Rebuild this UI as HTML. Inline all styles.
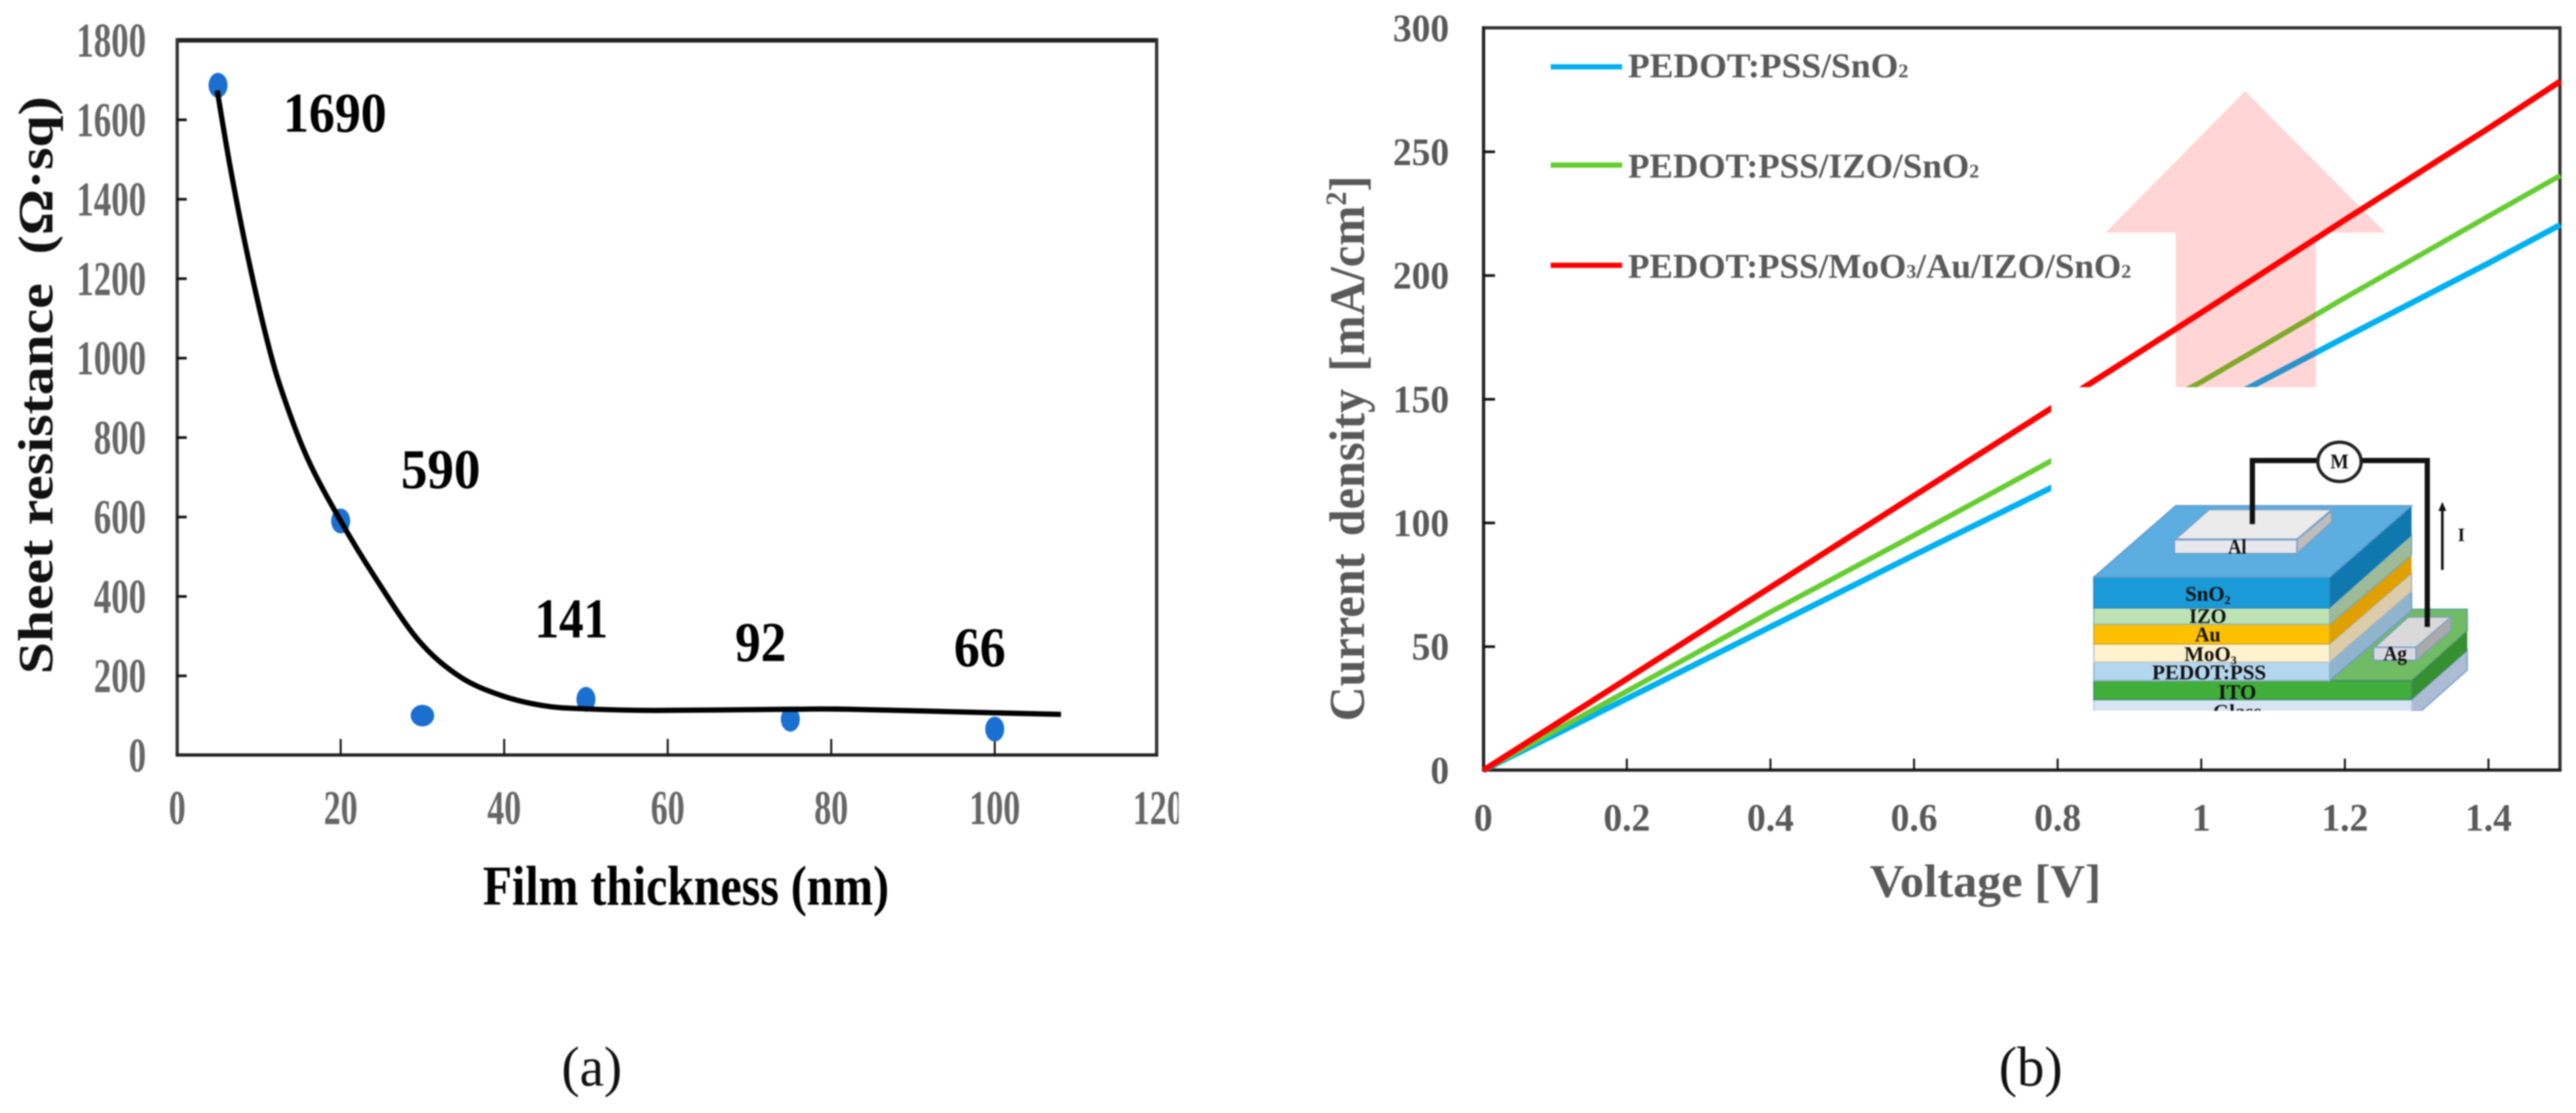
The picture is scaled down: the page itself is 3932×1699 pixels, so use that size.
<!DOCTYPE html>
<html lang="en">
<head>
<meta charset="utf-8">
<title>Sheet resistance and current density charts</title>
<style>
html,body{margin:0;padding:0;background:#fff;width:3932px;height:1699px;overflow:hidden}
svg{display:block;filter:blur(1px)}
text{font-family:"Liberation Serif",serif}
.bold{font-weight:bold}
.lab{font-weight:bold;fill:#111;text-anchor:middle;font-size:32px}
</style>
</head>
<body>
<svg id="figure" xmlns="http://www.w3.org/2000/svg" width="3932" height="1699" viewBox="0 0 3932 1699">
  <defs>
    <clipPath id="clip-a-labels"><rect x="0" y="0" width="1799" height="1699"/></clipPath>
    <clipPath id="clip-inset"><rect x="3150" y="640" width="640" height="445"/></clipPath>
  </defs>
  <rect width="3932" height="1699" fill="#fff"/>

  <g id="chart-a">
    <g>
      <rect x="268" y="58" width="1499" height="7" fill="#222"/>
      <rect x="268" y="58" width="5" height="1097" fill="#333"/>
      <rect x="1763" y="58" width="5" height="1097" fill="#333"/>
      <rect x="268" y="1150" width="1499" height="5" fill="#222"/>
    </g>
    <g id="a-ticks"></g>
    <g id="a-points"></g>
    <g id="a-curve"></g>
    <g class="bold" fill="#000" font-size="86">
      <text transform="translate(432,201) scale(.92,1)">1690</text>
      <text transform="translate(612,745) scale(.94,1)">590</text>
      <text transform="translate(816,973) scale(.87,1)">141</text>
      <text transform="translate(1122,1009) scale(.91,1)">92</text>
      <text transform="translate(1456,1017) scale(.92,1)">66</text>
    </g>
    <text class="bold" fill="#111" font-size="75" transform="translate(80,1029) rotate(-90)" textLength="882" lengthAdjust="spacingAndGlyphs" xml:space="preserve">Sheet resistance  (Ω·sq)</text>
    <text class="bold" fill="#000" font-size="86" x="737" y="1381" textLength="620" lengthAdjust="spacingAndGlyphs">Film thickness (nm)</text>
    <text fill="#111" font-size="86" transform="translate(857,1657) scale(.97,1)">(a)</text>
  </g>

  <g id="chart-b">
    <g>
      <rect x="2262" y="40" width="1648" height="5" fill="#333"/>
      <rect x="2262" y="40" width="5" height="1138" fill="#222"/>
      <rect x="3905" y="40" width="5" height="1138" fill="#333"/>
      <rect x="2262" y="1173" width="1648" height="5" fill="#222"/>
    </g>
    <g id="b-ticks"></g>
    <g id="b-under"></g>
    <polygon points="3427,139 3641,355 3535,355 3535,591 3321,591 3321,355 3214,355" fill="#ff0000" fill-opacity=".165"/>
    <g id="b-over"></g>
    <rect x="3131" y="591" width="770" height="510" fill="#fff"/>

    <g>
      <line x1="2367" x2="2476" y1="102" y2="102" stroke="#00b0f0" stroke-width="8"/>
      <line x1="2367" x2="2476" y1="252" y2="252" stroke="#66cc33" stroke-width="8"/>
      <line x1="2367" x2="2476" y1="405" y2="405" stroke="#ff0000" stroke-width="8"/>
      <g class="bold" fill="#595959" font-size="53">
        <text x="2485" y="118" textLength="428" lengthAdjust="spacingAndGlyphs">PEDOT:PSS/SnO<tspan font-size="30">2</tspan></text>
        <text x="2485" y="271" textLength="536" lengthAdjust="spacingAndGlyphs">PEDOT:PSS/IZO/SnO<tspan font-size="30">2</tspan></text>
        <text x="2485" y="424" textLength="768" lengthAdjust="spacingAndGlyphs">PEDOT:PSS/MoO<tspan font-size="30">3</tspan>/Au/IZO/SnO<tspan font-size="30">2</tspan></text>
      </g>
    </g>

    <text class="bold" fill="#595959" font-size="76" word-spacing="8" transform="translate(2082,1101) rotate(-90)" textLength="833" lengthAdjust="spacingAndGlyphs">Current density [mA/cm<tspan font-size="44" dy="-28">2</tspan><tspan dy="28">]</tspan></text>
    <text class="bold" fill="#595959" font-size="71" x="2854" y="1369" textLength="353" lengthAdjust="spacingAndGlyphs">Voltage [V]</text>
    <text fill="#111" font-size="86" transform="translate(3051,1657) scale(.97,1)">(b)</text>

    <g>
      <g clip-path="url(#clip-inset)" stroke-width="2">
        <polygon points="3681,1068 3766,993 3766,1023 3696,1085 3681,1085" fill="#acbcd4" stroke="#7f9fd0"/>
        <rect x="3196" y="1068" width="485" height="20" fill="#d8e4f4" stroke="#b8c8e0"/>
        <text class="lab" x="3415" y="1097" fill="#222" textLength="74" lengthAdjust="spacingAndGlyphs">Glass</text>
      </g>
      <polygon points="3556,1039 3681,930 3766,930 3766,963 3681,1039" fill="#70bb63" stroke="#5a9fa0" stroke-width="2"/>
      <polygon points="3681,1039 3766,963 3766,993 3681,1068" fill="#369032"/>
      <rect x="3196" y="1039" width="485" height="29" fill="#41ad3a" stroke="#3f8f70" stroke-width="2"/>
      <polygon points="3556,1011 3681,903 3681,932 3556,1039" fill="#8fb4cc" stroke="#6f9cc8" stroke-width="2"/>
      <rect x="3196" y="1011" width="360" height="28" fill="#b4d7f0" stroke="#8fb0cc" stroke-width="2"/>
      <polygon points="3556,983 3681,875 3681,903 3556,1011" fill="#ddccaa" stroke="#9fb4c0" stroke-width="2"/>
      <rect x="3196" y="983" width="360" height="28" fill="#fff2cc" stroke="#b8c4c8" stroke-width="2"/>
      <polygon points="3556,953 3681,847 3681,875 3556,983" fill="#dfa000"/>
      <rect x="3196" y="953" width="360" height="30" fill="#ffc000" stroke="#c8a838" stroke-width="2"/>
      <polygon points="3556,928 3681,817 3681,847 3556,953" fill="#9dbb98" stroke="#7fa8b8" stroke-width="2"/>
      <rect x="3196" y="928" width="360" height="25" fill="#bde3b5" stroke="#8fb8a8" stroke-width="2"/>
      <polygon points="3556,881 3681,772 3681,817 3556,928" fill="#0f78ae"/>
      <rect x="3196" y="881" width="360" height="47" fill="#1b9ad8" stroke="#2a86c0" stroke-width="2"/>
      <polygon points="3321,772 3681,772 3556,881 3196,881" fill="#5baedf" stroke="#5f9ccc" stroke-width="2"/>
      <polygon points="3506,824 3559,780 3559,797 3506,845" fill="#bdbdbd" stroke="#7fa0c4" stroke-width="2"/>
      <polygon points="3372,778 3559,778 3506,823 3321,823" fill="#ebebeb" stroke="#7fa0c4" stroke-width="2"/>
      <rect x="3319" y="824" width="187" height="21" fill="#e8e8ee" stroke="#6f9cc8" stroke-width="2"/>
      <polygon points="3688,988 3741,942 3741,962 3688,1008" fill="#aaaaaa" stroke="#7fa0c4" stroke-width="2"/>
      <polygon points="3676,942 3741,942 3688,988 3625,988" fill="#d9d9d9" stroke="#7fa0c4" stroke-width="2"/>
      <rect x="3623" y="988" width="65" height="20" fill="#d8d8e0" stroke="#6f9cc8" stroke-width="2"/>
      <g class="lab">
        <text x="3415" y="845" textLength="28" lengthAdjust="spacingAndGlyphs">Al</text>
        <text x="3370" y="917" textLength="69" lengthAdjust="spacingAndGlyphs">SnO<tspan font-size="18" dy="5">2</tspan></text>
        <text x="3370" y="951" textLength="57" lengthAdjust="spacingAndGlyphs">IZO</text>
        <text x="3370" y="979" textLength="39" lengthAdjust="spacingAndGlyphs">Au</text>
        <text x="3374" y="1009" textLength="80" lengthAdjust="spacingAndGlyphs">MoO<tspan font-size="18" dy="5">3</tspan></text>
        <text x="3372" y="1037" textLength="174" lengthAdjust="spacingAndGlyphs">PEDOT:PSS</text>
        <text x="3415" y="1067" textLength="58" lengthAdjust="spacingAndGlyphs">ITO</text>
        <text x="3656" y="1008" textLength="36" lengthAdjust="spacingAndGlyphs">Ag</text>
      </g>
      <path d="M3438,800 V703 H3705 V957" fill="none" stroke="#111" stroke-width="8"/>
      <ellipse cx="3571" cy="705" rx="33" ry="30" fill="#fff" stroke="#222" stroke-width="5"/>
      <text class="lab" x="3571" y="715" textLength="28" lengthAdjust="spacingAndGlyphs">M</text>
      <line x1="3728" y1="870" x2="3728" y2="775" stroke="#111" stroke-width="4"/>
      <polygon points="3728,766 3722,780 3734,780" fill="#111"/>
      <text class="lab" x="3757" y="826" style="font-size:28px">I</text>
    </g>
  </g>

  <g id="a-labels" clip-path="url(#clip-a-labels)"></g>
  <g id="b-labels"></g>
</svg>

<script>
// Chart (a) data
const thicknessValues = [5, 20, 30, 50, 75, 100];
const resistanceValues = [1687, 590, 100, 141, 91, 66];
const fitThickness = [4.9, 6.5, 8.5, 11, 13, 16, 20, 24.3, 29.5, 34.5, 39.6, 44.8, 49.9, 58.5, 75, 82, 100, 108.1];
const fitResistance = [1674, 1480, 1270, 1045, 905, 745, 590, 445, 290, 199, 151, 125, 117, 113, 116, 116, 107, 103];
const thicknessTicks = [0, 20, 40, 60, 80, 100, 120];
const resistanceTicks = [0, 200, 400, 600, 800, 1000, 1200, 1400, 1600, 1800];

// Chart (b) data
const voltageValues = [0, 0.2, 0.4, 0.6, 0.8, 1.0, 1.2, 1.4, 1.5];
const sno2Current = [0, 29, 58, 87, 115.5, 144.5, 175, 205, 220.5];
const izoCurrent = [0, 32, 64, 95, 126.5, 157, 191, 224, 240.4];
const auCurrent = [0, 37, 74, 111, 148, 185, 222.5, 259.5, 278.5];
const voltageTicks = [0, 0.2, 0.4, 0.6, 0.8, 1, 1.2, 1.4];
const currentTicks = [0, 50, 100, 150, 200, 250, 300];

const NS = 'http://www.w3.org/2000/svg';
const xA = v => 270.4 + 12.48 * v;
const yA = v => 1153 - 0.6063 * v;
const xB = v => 2264 + 1096 * v;
const yB = v => 1176 - 3.777 * v;

function make(tag, attrs, parent) {
  const el = document.createElementNS(NS, tag);
  for (const k in attrs) el.setAttribute(k, attrs[k]);
  parent.appendChild(el);
  return el;
}

function smoothPath(pts) {
  let d = 'M' + pts[0][0] + ',' + pts[0][1];
  for (let i = 0; i < pts.length - 1; i++) {
    const p0 = pts[Math.max(0, i - 1)];
    const p1 = pts[i];
    const p2 = pts[i + 1];
    const p3 = pts[Math.min(pts.length - 1, i + 2)];
    const c1x = p1[0] + (p2[0] - p0[0]) / 6;
    const c1y = p1[1] + (p2[1] - p0[1]) / 6;
    const c2x = p2[0] - (p3[0] - p1[0]) / 6;
    const c2y = p2[1] - (p3[1] - p1[1]) / 6;
    d += ' C' + c1x + ',' + c1y + ' ' + c2x + ',' + c2y + ' ' + p2[0] + ',' + p2[1];
  }
  return d;
}

const aTicks = document.getElementById('a-ticks');
const aLabels = document.getElementById('a-labels');
const bTicks = document.getElementById('b-ticks');
const bLabels = document.getElementById('b-labels');

// Chart (a) ticks and labels
resistanceTicks.forEach(function (v) {
  if (v !== 0 && v !== 1800) {
    const t = make('line', {x1: 270, x2: 285, y1: yA(v), y2: yA(v), stroke: '#111', 'stroke-width': 4}, aTicks);
    
    
  }
  const lab = make('text', {transform: 'translate(223,' + (yA(v) + 25) + ') scale(.72,1)', 'text-anchor': 'end', 'font-size': 74, 'font-weight': 'bold', fill: '#666'}, aLabels);
  lab.textContent = String(v);
  
  
});
thicknessTicks.forEach(function (v) {
  if (v !== 0 && v !== 120) {
    const t = make('line', {x1: xA(v), x2: xA(v), y1: 1128, y2: 1153, stroke: '#111', 'stroke-width': 3}, aTicks);
    
    
  }
  const lab = make('text', {transform: 'translate(' + xA(v) + ',1258) scale(.7,1)', 'text-anchor': 'middle', 'font-size': 74, 'font-weight': 'bold', fill: '#666'}, aLabels);
  lab.textContent = String(v);
  
  
});

// Chart (a) marks
thicknessValues.forEach(function (x, i) {
  const wide = x === 30;
  const dot = make('ellipse', {cx: xA(x), cy: yA(resistanceValues[i]), rx: wide ? 18 : 14.5, ry: wide ? 16.5 : 19, fill: '#1a6fd0'}, document.getElementById('a-points'));
  
  
});

const fitPoints = fitThickness.map(function (x, i) { return [xA(x), yA(fitResistance[i])]; });
const fitLine = make('path', {d: smoothPath(fitPoints), fill: 'none', stroke: '#000', 'stroke-width': 8}, document.getElementById('a-curve'));



// Chart (b) ticks and labels
currentTicks.forEach(function (v) {
  if (v !== 0 && v !== 300) {
    const t = make('line', {x1: 2264, x2: 2282, y1: yB(v), y2: yB(v), stroke: '#111', 'stroke-width': 4}, bTicks);
    
    
  }
  const lab = make('text', {transform: 'translate(2212,' + (yB(v) + 20) + ') scale(.97,1)', 'text-anchor': 'end', 'font-size': 59, 'font-weight': 'bold', fill: '#595959'}, bLabels);
  lab.textContent = String(v);
  
  
});
voltageTicks.forEach(function (v) {
  if (v !== 0) {
    const t = make('line', {x1: xB(v), x2: xB(v), y1: 1158, y2: 1176, stroke: '#111', 'stroke-width': 3}, bTicks);
    
    
  }
  const lab = make('text', {transform: 'translate(' + xB(v) + ',1268) scale(.97,1)', 'text-anchor': 'middle', 'font-size': 59, 'font-weight': 'bold', fill: '#595959'}, bLabels);
  lab.textContent = String(v);
  
  
});

// Chart (b) series
function seriesPoints(values) {
  return voltageValues.map(function (v, i) { return xB(v) + ',' + yB(values[i]); }).join(' ');
}
const under = document.getElementById('b-under');
const over = document.getElementById('b-over');

const blueLine = make('polyline', {points: seriesPoints(sno2Current), fill: 'none', stroke: '#00b0f0', 'stroke-width': 9}, under);



const greenLine = make('polyline', {points: seriesPoints(izoCurrent), fill: 'none', stroke: '#66cc33', 'stroke-width': 8}, under);



const redLine = make('polyline', {points: seriesPoints(auCurrent), fill: 'none', stroke: '#ff0000', 'stroke-width': 9}, over);


</script>
</body>
</html>
